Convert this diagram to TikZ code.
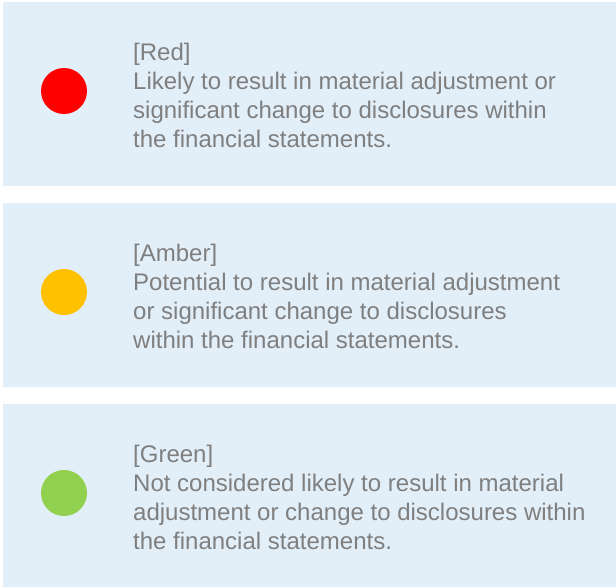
\documentclass[tikz,border=0pt]{standalone}
\usepackage{fontspec}
\setmainfont{Liberation Sans}
\usetikzlibrary{positioning}
\definecolor{panelblue}{HTML}{E2EEF8}
\definecolor{ragred}{HTML}{FF0000}
\definecolor{ragamber}{HTML}{FFC000}
\definecolor{raggreen}{HTML}{92D050}
\definecolor{ragtext}{HTML}{7F7F7F}
\tikzset{
  panel/.style={fill=panelblue, draw=none},
  dot/.style={circle, draw=none, minimum size=46pt, inner sep=0pt},
  ragnote/.style={anchor=base west, align=left, inner sep=0pt, text=ragtext,
    font=\fontsize{24}{29}\selectfont},
}

\begin{document}
\begin{tikzpicture}[x=1pt, y=-1pt]
				\useasboundingbox (0,0) rectangle (616,587);
				
				% red
				\fill[panel] (3,2) rectangle (616,186);
				\node[dot, fill=ragred] (reddot) at (64,91) {};
				\node[ragnote] (rednote) at (133,147) {[Red]\\Likely to result in material adjustment or\\significant change to disclosures within\\the financial statements.};
				
				% amber
				\fill[panel] (3,203) rectangle (616,387);
				\node[dot, fill=ragamber] (amberdot) at (64,292) {};
				\node[ragnote] (ambernote) at (133,348) {[Amber]\\Potential to result in material adjustment\\or significant change to disclosures\\within the financial statements.};
				
				% green
				\fill[panel] (3,404) rectangle (616,587);
				\node[dot, fill=raggreen] (greendot) at (64,493) {};
				\node[ragnote] (greennote) at (133,549) {[Green]\\Not considered likely to result in material\\adjustment or change to disclosures within\\the financial statements.};
			\end{tikzpicture}
\end{document}
